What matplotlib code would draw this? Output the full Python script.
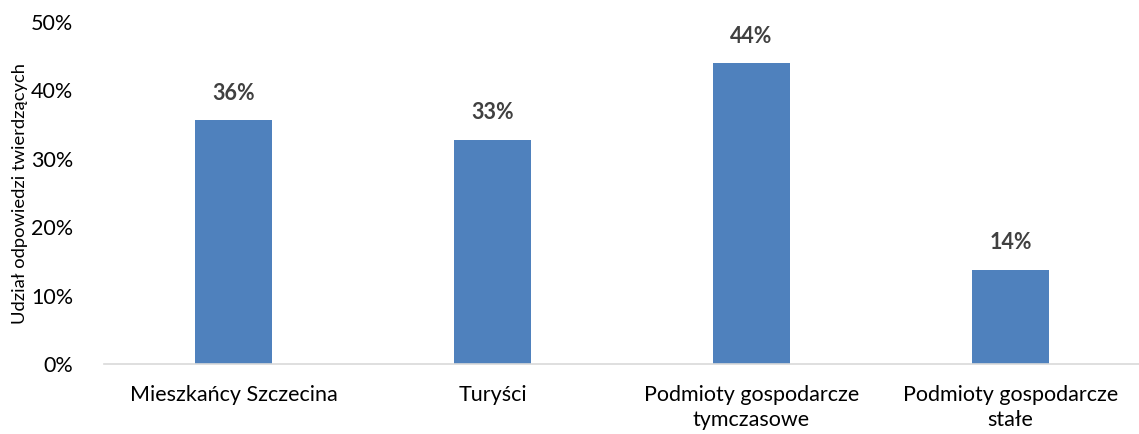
import numpy as np
import matplotlib.pyplot as plt
from matplotlib.ticker import FuncFormatter

categories = ['Mieszkańcy Szczecina', 'Turyści',
              'Podmioty gospodarcze\ntymczasowe', 'Podmioty gospodarcze\nstałe']
values = [35.6, 32.8, 44.0, 13.8]
labels = ['36%', '33%', '44%', '14%']

plt.rcParams['font.family'] = ['Lato', 'DejaVu Sans']

fig = plt.figure(figsize=(11.39, 4.34), dpi=100)
ax = fig.add_axes([104 / 1139, 1 - 364 / 434, 1036 / 1139, 342 / 434])

x = np.arange(len(categories))
bars = ax.bar(x, values, width=0.3, color='#4F81BD')

for b, lab in zip(bars, labels):
    ax.text(b.get_x() + b.get_width() / 2, b.get_height() + 2.4, lab,
            ha='center', va='bottom', fontsize=15.5, fontweight='bold', color='#404040')

ax.set_xlim(-0.5, len(categories) - 0.5)
ax.set_ylim(0, 50)
ax.set_yticks(np.arange(0, 51, 10))
ax.yaxis.set_major_formatter(FuncFormatter(lambda v, p: f'{v:.0f}%'))
ax.set_xticks(x)
ax.set_xticklabels(categories, fontsize=15.5, color='black', linespacing=1.35)
ax.tick_params(axis='y', labelsize=15.5, length=0, pad=22)
ax.tick_params(axis='x', length=0, pad=15)

for s in ['top', 'right', 'left']:
    ax.spines[s].set_visible(False)
ax.spines['bottom'].set_color('#D9D9D9')
ax.spines['bottom'].set_linewidth(1.2)

# y label placed like the original
fig.text(20 / 1139, 1 - 193 / 434, 'Udział odpowiedzi twierdzących',
         rotation=90, ha='center', va='center', fontsize=13.2)

fig.savefig('out.png', dpi=100)
